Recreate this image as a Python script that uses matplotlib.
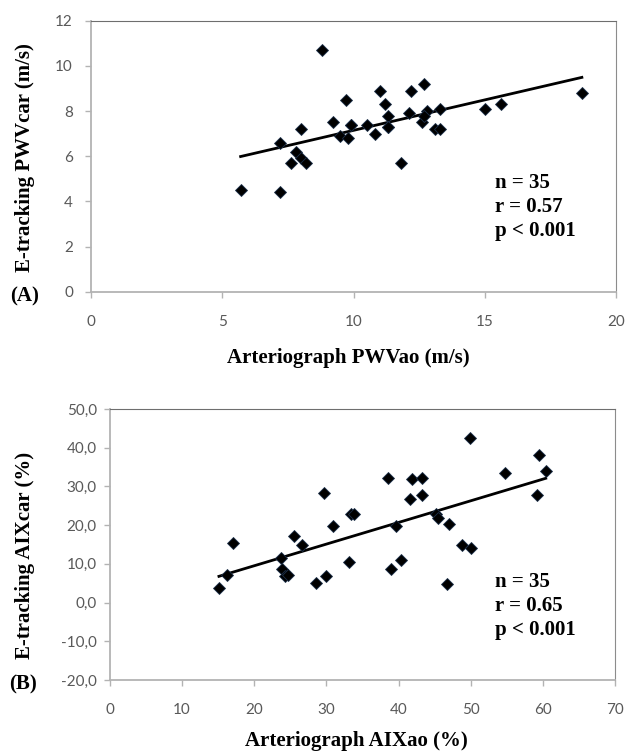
# E-tracking vs Arteriograph: PWV (A) y AIX (B)
import numpy as np
import matplotlib.pyplot as plt
from matplotlib.ticker import FixedLocator

# Datos panel A: PWV (m/s)
pwv_ao = [5.7, 7.2, 7.2, 8.0, 7.8, 7.6, 8.0, 8.2, 8.8, 9.2, 9.7, 9.5, 9.8, 9.9,
          10.5, 10.8, 11.0, 11.2, 11.3, 11.3, 11.8, 12.2, 12.1, 12.7, 12.6, 12.8,
          12.7, 13.3, 13.1, 13.3, 15.0, 15.6, 18.7, 9.9, 11.3]
pwv_car = [4.5, 4.4, 6.6, 7.2, 6.2, 5.7, 5.9, 5.7, 10.7, 7.5, 8.5, 6.9, 6.8, 7.4,
           7.4, 7.0, 8.9, 8.3, 7.8, 7.3, 5.7, 8.9, 7.9, 9.2, 7.5, 8.0,
           7.8, 8.1, 7.2, 7.2, 8.1, 8.3, 8.8, 7.4, 7.3]

# Datos panel B: AIX (%)
aix_ao = [15.1, 16.2, 17.1, 23.7, 23.8, 24.2, 24.7, 25.5, 26.6, 28.5, 29.9, 29.7,
          30.9, 33.1, 33.4, 33.8, 38.6, 39.0, 40.3, 39.6, 41.6, 41.9, 43.2, 43.3,
          45.2, 45.5, 47.0, 46.7, 49.9, 48.8, 50.1, 54.8, 59.5, 60.4, 59.2]
aix_car = [3.8, 7.1, 15.4, 11.6, 8.8, 6.8, 7.1, 17.2, 15.0, 5.1, 6.8, 28.3,
           19.8, 10.5, 23.0, 23.0, 32.3, 8.6, 10.9, 19.9, 26.8, 32.0, 32.3, 27.7,
           22.8, 21.9, 20.2, 4.9, 42.5, 15.0, 14.0, 33.4, 38.2, 34.0, 27.8]

ticks_a_x = [0, 5, 10, 15, 20]
ticks_a_y = [0, 2, 4, 6, 8, 10, 12]
ticks_b_x = [0, 10, 20, 30, 40, 50, 60, 70]
ticks_b_y = [-20, -10, 0, 10, 20, 30, 40, 50]
labels_b_y = ['-20,0', '-10,0', '0,0', '10,0', '20,0', '30,0', '40,0', '50,0']

stats_a = 'n = 35\nr = 0.57\np < 0.001'
stats_b = 'n = 35\nr = 0.65\np < 0.001'

W, H = 625, 752
serif = 'Liberation Serif'
tickfont = 'Lato'
gris = '#595959'


def px(x, y):
    return x / W, 1 - y / H


def panel(ax, x, y, xt, yt, ylab=None, ypad=8.5, xpad=11):
    ax.plot(x, y, linestyle='none', marker='D', ms=6.2, color='black',
            mec='#1c2f4a', mew=0.6, zorder=3)
    # recta de regresion
    m, b = np.polyfit(x, y, 1)
    xx = np.array([min(x), max(x)])
    ax.plot(xx, m * xx + b, color='black', lw=2.0, zorder=2)
    ax.set_xlim(xt[0], xt[-1])
    ax.set_ylim(yt[0], yt[-1])
    ax.xaxis.set_major_locator(FixedLocator(xt))
    ax.yaxis.set_major_locator(FixedLocator(yt))
    if ylab is not None:
        ax.set_yticklabels(ylab)
    for s in ['left', 'bottom']:
        ax.spines[s].set_color('#b3b3b3')
        ax.spines[s].set_linewidth(1.3)
    ax.spines['top'].set_color('#6e6e6e')
    ax.spines['right'].set_color('#8c8c8c')
    ax.tick_params(axis='both', direction='out', length=4.5, width=1,
                   color='#b3b3b3', labelcolor=gris, labelsize=11)
    ax.tick_params(axis='y', pad=ypad)
    ax.tick_params(axis='x', pad=xpad)
    for t in ax.get_xticklabels() + ax.get_yticklabels():
        t.set_fontfamily(tickfont)


fig = plt.figure(figsize=(W / 100, H / 100), dpi=100)

# Panel A
ax1 = fig.add_axes([91 / W, 1 - 291.7 / H, (616 - 91) / W, (291.7 - 20.7) / H])
panel(ax1, pwv_ao, pwv_car, ticks_a_x, ticks_a_y, ypad=8.5, xpad=12)

# Panel B
ax2 = fig.add_axes([110 / W, 1 - 680 / H, (615 - 110) / W, (680 - 409) / H])
panel(ax2, aix_ao, aix_car, ticks_b_x, ticks_b_y, ylab=labels_b_y, ypad=5, xpad=12)

# textos
fig.text(*px(25, 158), 'E-tracking PWVcar (m/s)', rotation=90, ha='center',
         va='center', family=serif, weight='bold', fontsize=15)
fig.text(*px(25, 555), 'E-tracking AIXcar (%)', rotation=90, ha='center',
         va='center', family=serif, weight='bold', fontsize=15)
fig.text(*px(348, 358), 'Arteriograph PWVao (m/s)', ha='center', va='center',
         family=serif, weight='bold', fontsize=15)
fig.text(*px(356, 741), 'Arteriograph AIXao (%)', ha='center', va='center',
         family=serif, weight='bold', fontsize=15)
fig.text(*px(25, 296), '(A)', ha='center', va='center', family=serif,
         weight='bold', fontsize=15)
fig.text(*px(23, 684), '(B)', ha='center', va='center', family=serif,
         weight='bold', fontsize=15)

fig.text(*px(495, 173), stats_a, ha='left', va='top', family=serif,
         weight='bold', fontsize=15, linespacing=1.28)
fig.text(*px(495, 572), stats_b, ha='left', va='top', family=serif,
         weight='bold', fontsize=15, linespacing=1.28)

fig.savefig('out.png', dpi=100)
